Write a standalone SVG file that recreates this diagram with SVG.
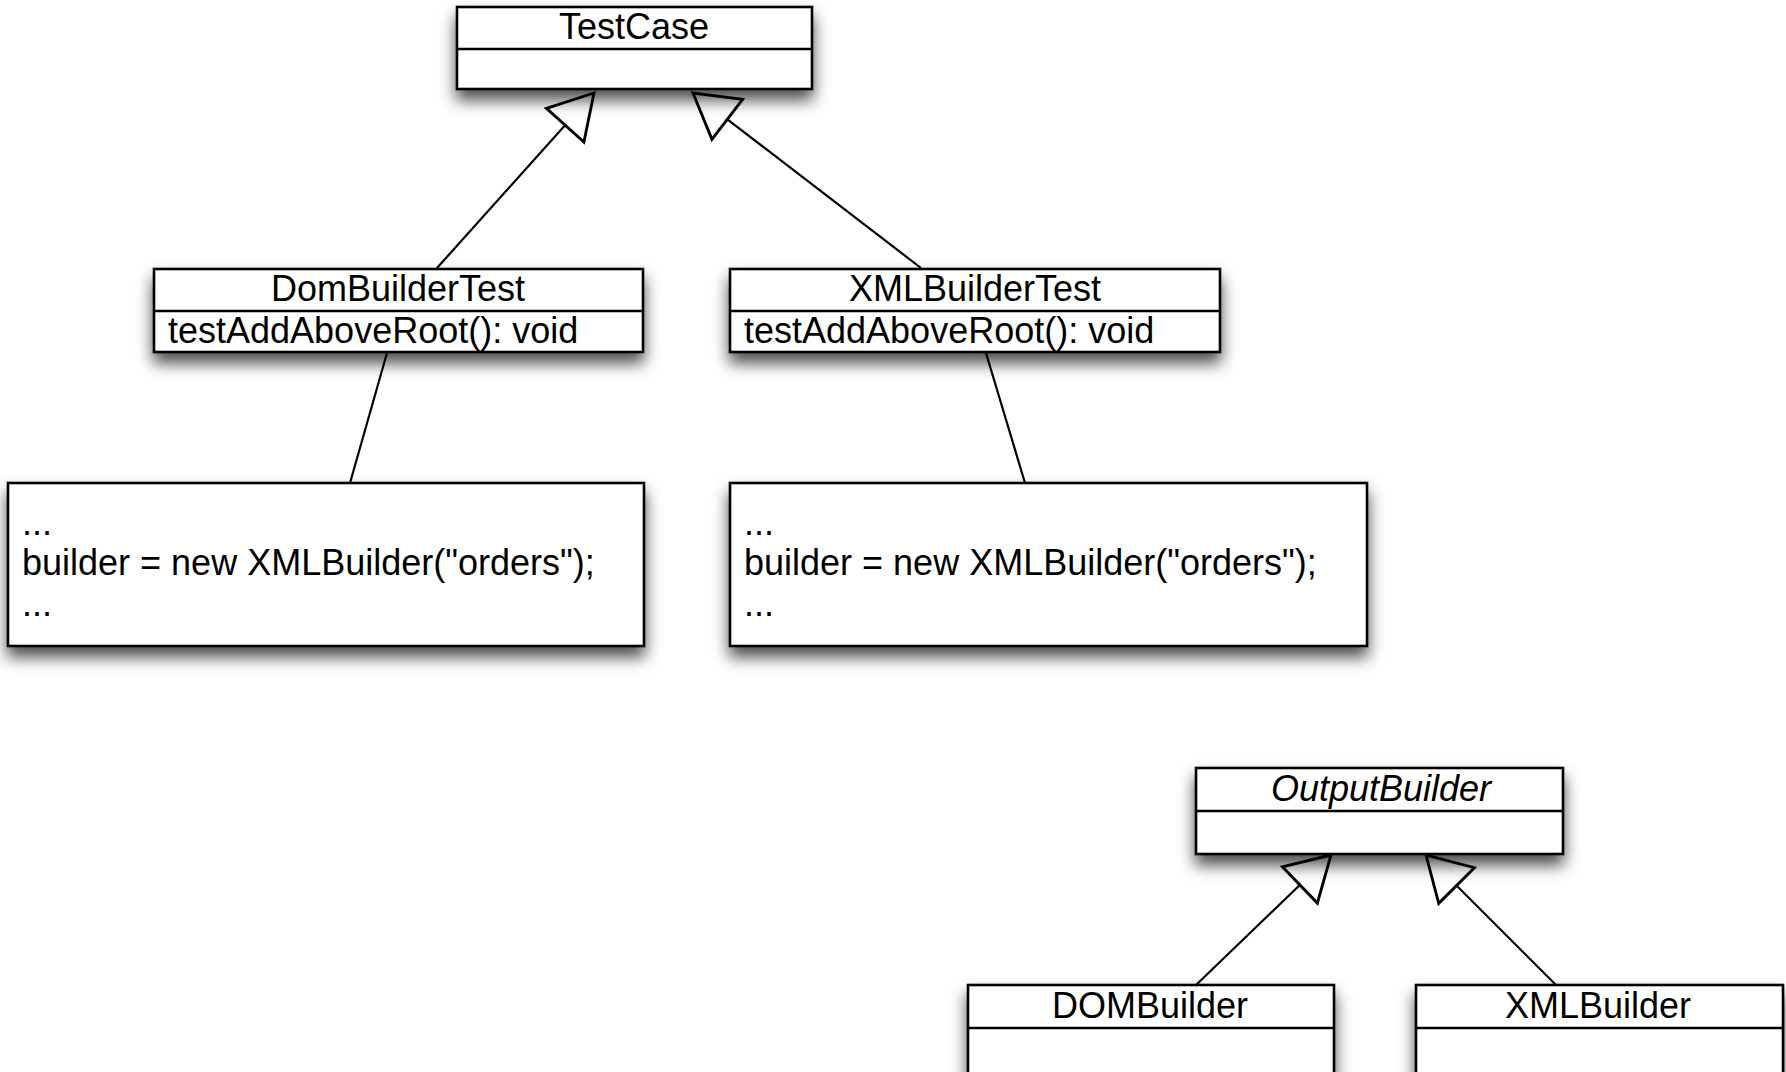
<svg xmlns="http://www.w3.org/2000/svg" width="1786" height="1072" viewBox="0 0 1786 1072">
  <style>
    .box { fill: #ffffff; stroke: #000000; stroke-width: 2.6; }
    .div { stroke: #000000; stroke-width: 2.4; }
    .link { fill: none; stroke: #000000; stroke-width: 2.2; }
    .gen { fill: none; stroke: #000000; stroke-width: 2.2; marker-end: url(#hollow); }
    text { font-family: "Liberation Sans", Arial, Helvetica, sans-serif; font-size: 36px; fill: #000000; }
    .name { text-anchor: middle; }
    .abstract { font-style: italic; }
  </style>
  <defs>
    <filter id="shadow" x="-10%" y="-30%" width="120%" height="180%">
      <feDropShadow dx="0" dy="10" stdDeviation="8" flood-color="#000000" flood-opacity="0.7"/>
    </filter>
    <!-- hollow triangle for generalization -->
    <marker id="hollow" markerUnits="userSpaceOnUse" markerWidth="60" markerHeight="60" viewBox="-40 -25 44 50" refX="0" refY="0" orient="auto">
      <path d="M0,0 L-36,-21 L-36,21 Z" fill="#ffffff" stroke="#000000" stroke-width="2.4" stroke-linejoin="miter"/>
    </marker>
  </defs>
  <rect width="1786" height="1072" fill="#ffffff"/>

  <g id="connectors">
    <line class="gen" x1="437" y1="268" x2="594" y2="93"/>
    <line class="gen" x1="921" y1="268" x2="693" y2="93"/>
    <line class="link" x1="387" y1="353" x2="350" y2="483"/>
    <line class="link" x1="986" y1="353" x2="1025" y2="483"/>
    <line class="gen" x1="1196" y1="985" x2="1331" y2="855"/>
    <line class="gen" x1="1556" y1="985" x2="1426" y2="855"/>
  </g>

  <g id="TestCase">
    <rect class="box" x="457" y="7" width="355" height="82" filter="url(#shadow)"/>
    <line class="div" x1="457" y1="49" x2="812" y2="49"/>
    <text class="name" x="634" y="39">TestCase</text>
  </g>

  <g id="DomBuilderTest">
    <rect class="box" x="154" y="269" width="489" height="83" filter="url(#shadow)"/>
    <line class="div" x1="154" y1="311" x2="643" y2="311"/>
    <text class="name" x="398" y="301">DomBuilderTest</text>
    <text x="168" y="343">testAddAboveRoot(): void</text>
  </g>

  <g id="XMLBuilderTest">
    <rect class="box" x="730" y="269" width="490" height="83" filter="url(#shadow)"/>
    <line class="div" x1="730" y1="311" x2="1220" y2="311"/>
    <text class="name" x="975" y="301">XMLBuilderTest</text>
    <text x="744" y="343">testAddAboveRoot(): void</text>
  </g>

  <g id="DomBuilderTestNote">
    <rect class="box" x="8" y="483" width="636" height="163" filter="url(#shadow)"/>
    <text x="22" y="535">...</text>
    <text x="22" y="575">builder = new XMLBuilder("orders");</text>
    <text x="22" y="616">...</text>
  </g>

  <g id="XMLBuilderTestNote">
    <rect class="box" x="730" y="483" width="637" height="163" filter="url(#shadow)"/>
    <text x="744" y="535">...</text>
    <text x="744" y="575">builder = new XMLBuilder("orders");</text>
    <text x="744" y="616">...</text>
  </g>

  <g id="OutputBuilder">
    <rect class="box" x="1196" y="768" width="367" height="86" filter="url(#shadow)"/>
    <line class="div" x1="1196" y1="811" x2="1563" y2="811"/>
    <text class="name abstract" x="1381" y="801">OutputBuilder</text>
  </g>

  <g id="DOMBuilder">
    <rect class="box" x="968" y="985" width="366" height="100" filter="url(#shadow)"/>
    <line class="div" x1="968" y1="1028" x2="1334" y2="1028"/>
    <text class="name" x="1150" y="1018">DOMBuilder</text>
  </g>

  <g id="XMLBuilder">
    <rect class="box" x="1416" y="985" width="367" height="100" filter="url(#shadow)"/>
    <line class="div" x1="1416" y1="1028" x2="1783" y2="1028"/>
    <text class="name" x="1598" y="1018">XMLBuilder</text>
  </g>
</svg>
